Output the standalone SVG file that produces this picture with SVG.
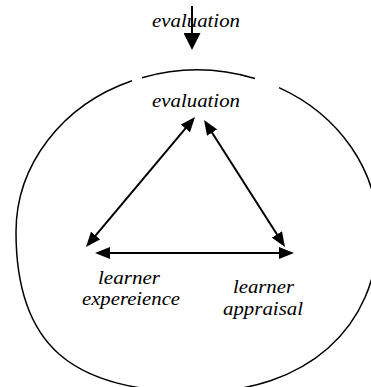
<svg xmlns="http://www.w3.org/2000/svg" width="371" height="387" viewBox="0 0 371 387">
  <style>
    .label { font-family: "Liberation Serif", "Times New Roman", serif; font-style: italic; font-size: 18px; fill: #000; }
    .boundary { fill: none; stroke: #000; stroke-width: 1.5; }
    .link { fill: none; stroke: #000; stroke-width: 2; }
  </style>
  <defs>
    <marker id="head" markerUnits="userSpaceOnUse" markerWidth="15" markerHeight="12" refX="10" refY="6" orient="auto-start-reverse">
      <path d="M0,0 L15,6 L0,12 z" fill="#000"/>
    </marker>
    <marker id="headLarge" markerUnits="userSpaceOnUse" markerWidth="17" markerHeight="17" refX="12" refY="8.5" orient="auto">
      <path d="M0,0 L17,8.5 L0,17 z" fill="#000"/>
    </marker>
  </defs>

  <!-- enclosing boundary: elliptical upper half, fuller lower half, two small openings at the top -->
  <g id="boundary">
    <path class="boundary" d="M132,80.81 A181,162 0 0 0 16,232 C16,344 70.3,392 197,392 C305.6,392 378,328 378,232 A181,162 0 0 0 279,87.58"/>
    <path class="boundary" d="M142,77.66 A181,162 0 0 1 255,78.54"/>
  </g>

  <!-- external input entering from above -->
  <g id="outer-evaluation">
    <text class="label" x="152" y="27" textLength="88" lengthAdjust="spacingAndGlyphs">evaluation</text>
  </g>

  <g id="evaluation">
    <text class="label" x="152" y="107" textLength="88" lengthAdjust="spacingAndGlyphs">evaluation</text>
  </g>

  <g id="learner-experience">
    <text class="label" x="98" y="284" textLength="62" lengthAdjust="spacingAndGlyphs">learner</text>
    <text class="label" x="82" y="305" textLength="98" lengthAdjust="spacingAndGlyphs">expereience</text>
  </g>

  <g id="learner-appraisal">
    <text class="label" x="233" y="293" textLength="61" lengthAdjust="spacingAndGlyphs">learner</text>
    <text class="label" x="223" y="315" textLength="80" lengthAdjust="spacingAndGlyphs">appraisal</text>
  </g>

  <g id="connectors">
    <line class="link" x1="192" y1="6" x2="192" y2="45" marker-end="url(#headLarge)"/>
    <line class="link" x1="191.8" y1="120.8" x2="89.2" y2="243.2" marker-start="url(#head)" marker-end="url(#head)"/>
    <line class="link" x1="206.7" y1="124.2" x2="282.3" y2="242.8" marker-start="url(#head)" marker-end="url(#head)"/>
    <line class="link" x1="100" y1="253" x2="289" y2="253" marker-start="url(#head)" marker-end="url(#head)"/>
  </g>
</svg>
